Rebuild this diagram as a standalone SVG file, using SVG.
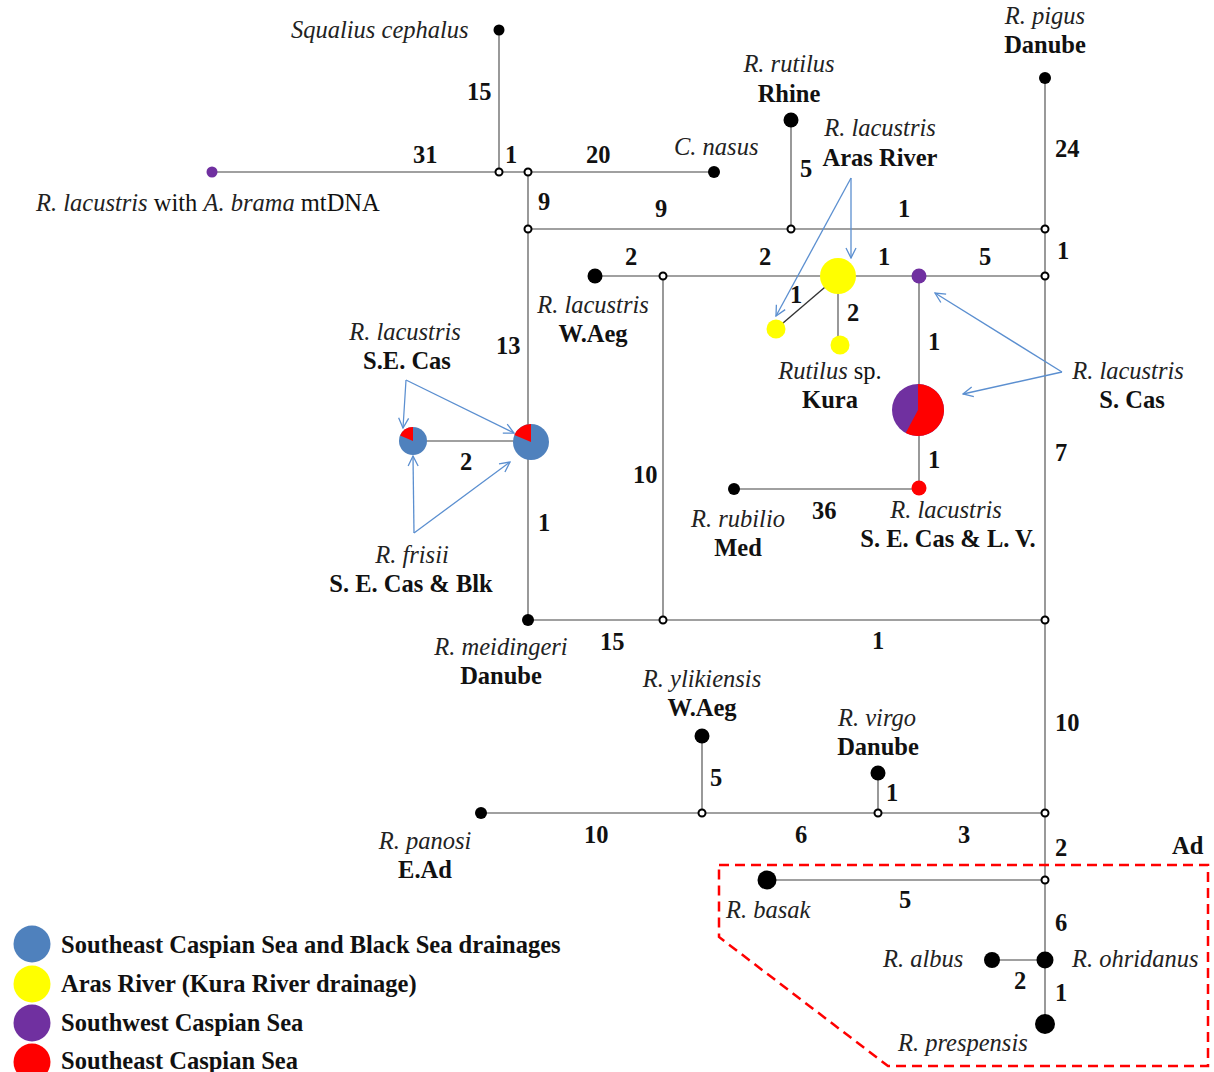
<svg xmlns="http://www.w3.org/2000/svg" width="1214" height="1072" viewBox="0 0 1214 1072">
<defs>
<style>
text{font-family:"Liberation Serif","Times New Roman",serif;font-size:24.5px;fill:#111}
.i{font-style:italic;fill:#222}
.b{font-weight:bold}
.m{text-anchor:middle}
.ln{stroke:#808080;stroke-width:1.6;fill:none}
.dk{stroke:#333;stroke-width:1.4;fill:none}
.on{fill:#fff;stroke:#000;stroke-width:2}
.bk{fill:#000}
.ar{stroke:#5b8fd0;stroke-width:1.3;fill:none;marker-end:url(#ah)}
</style>
<marker id="ah" viewBox="0 0 12 12" refX="11" refY="6" markerWidth="12" markerHeight="12" markerUnits="userSpaceOnUse" orient="auto">
<path d="M1,1 L11,6 L1,11" fill="none" stroke="#5b8fd0" stroke-width="1.3"/>
</marker>
</defs>
<rect width="1214" height="1072" fill="#fff"/>
<g id="connectors">
<line class="ln" x1="499" y1="30" x2="499" y2="172"/>
<line class="ln" x1="212" y1="172" x2="714" y2="172"/>
<line class="ln" x1="528" y1="172" x2="528" y2="620"/>
<line class="ln" x1="528" y1="229" x2="1045" y2="229"/>
<line class="ln" x1="791" y1="120" x2="791" y2="229"/>
<line class="ln" x1="1045" y1="78" x2="1045" y2="1024"/>
<line class="ln" x1="595" y1="276" x2="1045" y2="276"/>
<line class="dk" x1="838" y1="276" x2="776" y2="329"/>
<line class="ln" x1="838" y1="276" x2="838" y2="345"/>
<line class="ln" x1="919" y1="276" x2="919" y2="488"/>
<line class="ln" x1="734" y1="489" x2="919" y2="489"/>
<line class="ln" x1="663" y1="276" x2="663" y2="620"/>
<line class="ln" x1="528" y1="620" x2="1045" y2="620"/>
<line class="ln" x1="413" y1="441" x2="531" y2="441"/>
<line class="ln" x1="481" y1="813" x2="1045" y2="813"/>
<line class="ln" x1="702" y1="736" x2="702" y2="813"/>
<line class="ln" x1="878" y1="773" x2="878" y2="813"/>
<line class="ln" x1="767" y1="880" x2="1045" y2="880"/>
<line class="ln" x1="992" y1="960" x2="1045" y2="960"/>
<polygon points="719,865 1208,865 1208,1066 888,1066 719,937" fill="none" stroke="#ff0000" stroke-width="2.5" stroke-dasharray="10,6"/>
<polyline class="ar" points="851,178 776,316"/>
<polyline class="ar" points="851,178 851,258"/>
<polyline class="ar" points="1062,372 935,293"/>
<polyline class="ar" points="1062,372 963,394"/>
<polyline class="ar" points="406,380 403,428"/>
<polyline class="ar" points="406,380 514,433"/>
<polyline class="ar" points="414,533 413,456"/>
<polyline class="ar" points="414,533 510,462"/>
</g>
<g id="median-nodes">
<circle class="on" cx="499" cy="172" r="3.5"/>
<circle class="on" cx="528" cy="172" r="3.5"/>
<circle class="on" cx="528" cy="229" r="3.5"/>
<circle class="on" cx="791" cy="229" r="3.5"/>
<circle class="on" cx="1045" cy="229" r="3.5"/>
<circle class="on" cx="1045" cy="276" r="3.5"/>
<circle class="on" cx="663" cy="276" r="3.5"/>
<circle class="on" cx="663" cy="620" r="3.5"/>
<circle class="on" cx="1045" cy="620" r="3.5"/>
<circle class="on" cx="702" cy="813" r="3.5"/>
<circle class="on" cx="878" cy="813" r="3.5"/>
<circle class="on" cx="1045" cy="813" r="3.5"/>
<circle class="on" cx="1045" cy="880" r="3.5"/>
</g>
<g id="squalius"><circle class="bk" cx="499" cy="30" r="5.5"/><text class="i" x="291" y="38">Squalius cephalus</text></g>
<g id="brama"><circle cx="212" cy="172" r="5.5" fill="#7030a0"/><text x="36" y="211"><tspan class="i">R. lacustris</tspan> with <tspan class="i">A. brama</tspan> mtDNA</text></g>
<g id="nasus"><circle class="bk" cx="714" cy="172" r="6"/><text class="i" x="674" y="155">C. nasus</text></g>
<g id="rutilus"><circle class="bk" cx="791" cy="120" r="7.5"/><text class="i m" x="789" y="72">R. rutilus</text><text class="b m" x="789" y="102">Rhine</text></g>
<g id="pigus"><circle class="bk" cx="1045" cy="78" r="6"/><text class="i m" x="1045" y="24">R. pigus</text><text class="b m" x="1045" y="53">Danube</text></g>
<g id="aras"><circle cx="838" cy="276" r="18" fill="#ffff00"/><circle cx="776" cy="329" r="9.5" fill="#ffff00"/><circle cx="840" cy="345" r="9.5" fill="#ffff00"/><text class="i m" x="880" y="136">R. lacustris</text><text class="b m" x="880" y="166">Aras River</text><text class="m" x="830" y="379"><tspan class="i">Rutilus</tspan> sp.</text><text class="b m" x="830" y="408">Kura</text></g>
<g id="waeg"><circle class="bk" cx="595" cy="276" r="7.5"/><text class="i m" x="593" y="313">R. lacustris</text><text class="b m" x="593" y="342">W.Aeg</text></g>
<g id="scas"><circle cx="919" cy="276" r="7.5" fill="#7030a0"/><circle cx="918" cy="410" r="26" fill="#7030a0"/><path d="M918,410 L918,384 A26,26 0 1 1 905.7,432.9 Z" fill="#ff0000"/><text class="i m" x="1128" y="379">R. lacustris</text><text class="b m" x="1132" y="408">S. Cas</text></g>
<g id="secas-lv"><circle cx="919" cy="488" r="7.5" fill="#ff0000"/><text class="i m" x="946" y="518">R. lacustris</text><text class="b m" x="948" y="547">S. E. Cas &amp; L. V.</text></g>
<g id="rubilio"><circle class="bk" cx="734" cy="489" r="6"/><text class="i m" x="738" y="527">R. rubilio</text><text class="b m" x="738" y="556">Med</text></g>
<g id="secas"><circle cx="413" cy="441" r="14" fill="#4f81bd"/><path d="M413,441 L413,427 A14,14 0 0 0 400.1,435.5 Z" fill="#ff0000"/><circle cx="531" cy="442" r="18" fill="#4f81bd"/><path d="M531,442 L531,424 A18,18 0 0 0 514.4,435 Z" fill="#ff0000"/><text class="i m" x="405" y="340">R. lacustris</text><text class="b m" x="407" y="369">S.E. Cas</text><text class="i m" x="412" y="563">R. frisii</text><text class="b m" x="411" y="592">S. E. Cas &amp; Blk</text></g>
<g id="meidingeri"><circle class="bk" cx="528" cy="620" r="6"/><text class="i m" x="501" y="655">R. meidingeri</text><text class="b m" x="501" y="684">Danube</text></g>
<g id="ylikiensis"><circle class="bk" cx="702" cy="736" r="7.5"/><text class="i m" x="702" y="687">R. ylikiensis</text><text class="b m" x="702" y="716">W.Aeg</text></g>
<g id="virgo"><circle class="bk" cx="878" cy="773" r="7.5"/><text class="i m" x="877" y="726">R. virgo</text><text class="b m" x="878" y="755">Danube</text></g>
<g id="panosi"><circle class="bk" cx="481" cy="813" r="6"/><text class="i m" x="425" y="849">R. panosi</text><text class="b m" x="425" y="878">E.Ad</text></g>
<g id="basak"><circle class="bk" cx="767" cy="880" r="9.5"/><text class="i" x="726" y="918">R. basak</text></g>
<g id="ohridanus"><circle class="bk" cx="1045" cy="960" r="8.5"/><text class="i" x="1072" y="967">R. ohridanus</text></g>
<g id="albus"><circle class="bk" cx="992" cy="960" r="8"/><text class="i" x="883" y="967">R. albus</text></g>
<g id="prespensis"><circle class="bk" cx="1045" cy="1024" r="10"/><text class="i" x="898" y="1051">R. prespensis</text></g>
<g id="ad"><text class="b" x="1172" y="854">Ad</text></g>
<g id="mutations" class="b">
<text class="b" x="467" y="100">15</text>
<text class="b" x="413" y="163">31</text>
<text class="b" x="505" y="163">1</text>
<text class="b" x="586" y="163">20</text>
<text class="b" x="1055" y="157">24</text>
<text class="b" x="800" y="177">5</text>
<text class="b" x="538" y="210">9</text>
<text class="b" x="655" y="217">9</text>
<text class="b" x="898" y="217">1</text>
<text class="b" x="1057" y="259">1</text>
<text class="b" x="625" y="265">2</text>
<text class="b" x="759" y="265">2</text>
<text class="b" x="878" y="265">1</text>
<text class="b" x="979" y="265">5</text>
<text class="b" x="790" y="303">1</text>
<text class="b" x="847" y="321">2</text>
<text class="b" x="928" y="350">1</text>
<text class="b" x="496" y="354">13</text>
<text class="b" x="460" y="470">2</text>
<text class="b" x="633" y="483">10</text>
<text class="b" x="1055" y="461">7</text>
<text class="b" x="928" y="468">1</text>
<text class="b" x="812" y="519">36</text>
<text class="b" x="538" y="531">1</text>
<text class="b" x="600" y="650">15</text>
<text class="b" x="872" y="649">1</text>
<text class="b" x="1055" y="731">10</text>
<text class="b" x="710" y="786">5</text>
<text class="b" x="886" y="801">1</text>
<text class="b" x="584" y="843">10</text>
<text class="b" x="795" y="843">6</text>
<text class="b" x="958" y="843">3</text>
<text class="b" x="1055" y="856">2</text>
<text class="b" x="899" y="908">5</text>
<text class="b" x="1055" y="931">6</text>
<text class="b" x="1014" y="989">2</text>
<text class="b" x="1055" y="1001">1</text>
</g>
<g id="legend">
<circle cx="32" cy="944" r="18.5" fill="#4f81bd"/><text class="b" x="61" y="953">Southeast Caspian Sea and Black Sea drainages</text>
<circle cx="32" cy="984" r="18.5" fill="#ffff00"/><text class="b" x="61" y="992">Aras River (Kura River drainage)</text>
<circle cx="32" cy="1023" r="18.5" fill="#7030a0"/><text class="b" x="61" y="1031">Southwest Caspian Sea</text>
<circle cx="32" cy="1062" r="18.5" fill="#ff0000"/><text class="b" x="61" y="1069">Southeast Caspian Sea</text>
</g>
</svg>
